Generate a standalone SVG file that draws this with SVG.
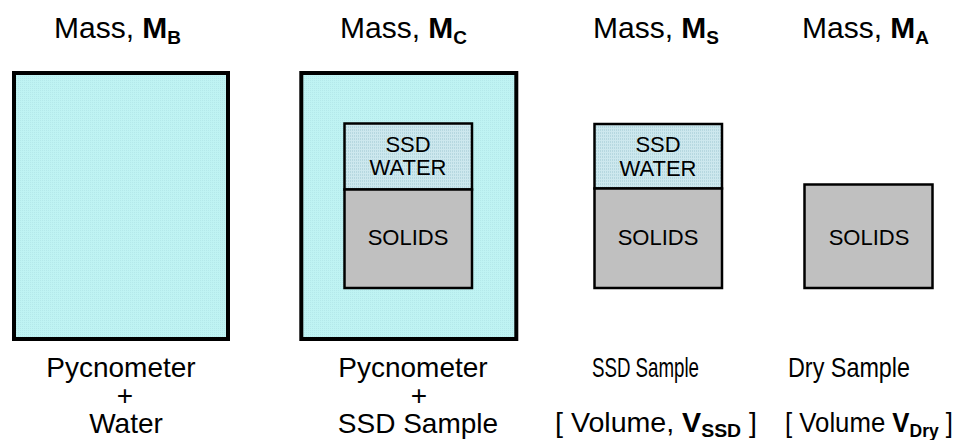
<svg xmlns="http://www.w3.org/2000/svg" width="957" height="440" viewBox="0 0 957 440">
<style>
text{font-family:"Liberation Sans",Arial,sans-serif;fill:#000}
.t{font-size:30px}
.b{font-size:28px}
.sub{font-size:19px;font-weight:bold}
.in{font-size:22px;text-anchor:middle}
.mid{text-anchor:middle}
.outer{stroke:#000;stroke-width:4;fill:url(#cyan)}
.box{stroke:#000;stroke-width:2.5}
.solid{fill:#C0C0C0}
.water{fill:url(#blue)}
</style>
<defs>
<pattern id="cyan" width="2" height="2" patternUnits="userSpaceOnUse">
<rect width="2" height="2" fill="#BFF3F3"/>
<rect width="1" height="1" fill="#B4E8EA"/>
</pattern>
<pattern id="blue" width="2" height="3" patternUnits="userSpaceOnUse">
<rect width="2" height="3" fill="#CDE8EE"/>
<rect width="1" height="2" fill="#B6D8E0"/>
</pattern>
</defs>
<g id="labels-top">
<text class="t" x="54" y="38">Mass, <tspan font-weight="bold">M</tspan><tspan class="sub" dy="6">B</tspan></text>
<text class="t" x="340" y="38">Mass, <tspan font-weight="bold">M</tspan><tspan class="sub" dy="6">C</tspan></text>
<text class="t" x="593" y="38">Mass, <tspan font-weight="bold">M</tspan><tspan class="sub" dy="6">S</tspan></text>
<text class="t" x="802" y="38">Mass, <tspan font-weight="bold">M</tspan><tspan class="sub" dy="6">A</tspan></text>
</g>
<g id="pycnometer-water">
<rect class="outer" x="14" y="73" width="214" height="266"/>
</g>
<g id="pycnometer-ssd">
<rect class="outer" x="301.3" y="73" width="215" height="266"/>
<rect class="box water" x="344.5" y="123.5" width="127.5" height="66"/>
<rect class="box solid" x="344.5" y="189.5" width="127.5" height="98.5"/>
<text class="in" x="408" y="152">SSD</text>
<text class="in" x="408" y="175">WATER</text>
<text class="in" x="408" y="245">SOLIDS</text>
</g>
<g id="ssd-sample">
<rect class="box water" x="594.5" y="124" width="127.5" height="64.5"/>
<rect class="box solid" x="594.5" y="188.5" width="127.5" height="99.5"/>
<text class="in" x="658" y="152">SSD</text>
<text class="in" x="658" y="175.5">WATER</text>
<text class="in" x="658" y="244.5">SOLIDS</text>
</g>
<g id="dry-sample">
<rect class="box solid" x="804.5" y="184.5" width="128" height="103.5"/>
<text class="in" x="869" y="244.5">SOLIDS</text>
</g>
<g id="connectors"></g>
<g id="labels-bottom">
<text class="b mid" x="121" y="377">Pycnometer</text>
<text class="b mid" x="125" y="405">+</text>
<text class="b mid" x="126" y="433">Water</text>
<text class="b mid" x="413" y="377">Pycnometer</text>
<text class="b mid" x="419" y="405">+</text>
<text class="b mid" x="418" y="433">SSD Sample</text>
<text class="b" x="592" y="377" textLength="107" lengthAdjust="spacingAndGlyphs">SSD Sample</text>
<text class="b" x="788" y="377" textLength="122" lengthAdjust="spacingAndGlyphs">Dry Sample</text>
<text class="b" x="555" y="432" textLength="202" lengthAdjust="spacingAndGlyphs">[ Volume, <tspan font-weight="bold">V</tspan><tspan class="sub" dy="5">SSD</tspan><tspan dy="-5"> ]</tspan></text>
<text class="b" x="785" y="432" textLength="168" lengthAdjust="spacingAndGlyphs">[ Volume <tspan font-weight="bold">V</tspan><tspan class="sub" dy="5">Dry</tspan><tspan dy="-5"> ]</tspan></text>
</g>
</svg>
